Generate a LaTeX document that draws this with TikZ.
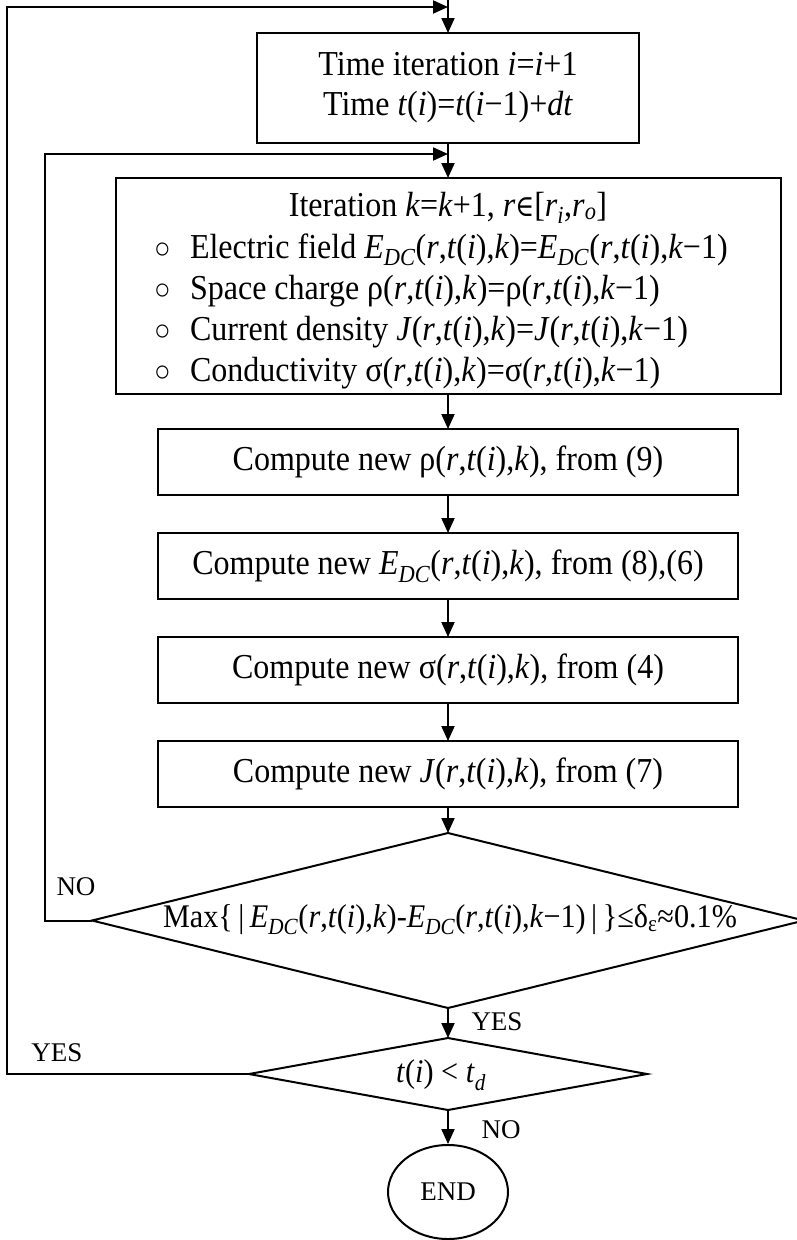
\documentclass[tikz,border=0pt]{standalone}
\usepackage{fontspec}
\setmainfont{Liberation Serif}[FakeStretch=0.915]
\newfontfamily\lblfont{Liberation Serif}
\newfontfamily\symf{DejaVu Serif}[FakeStretch=0.85]
\usetikzlibrary{arrows.meta,shapes.geometric}
\newcommand\vi[1]{\textit{#1}}
\newcommand\sbs[1]{\textsubscript{#1}}
\newcommand\EDC{\vi{E}\sbs{\vi{DC}}}
\newcommand\rtk{(\vi{r},\vi{t}(\vi{i}),\vi{k})}
\newcommand\rtkm{(\vi{r},\vi{t}(\vi{i}),\vi{k}−1)}
\newcommand\bul{\makebox[36pt][l]{\fontsize{30}{30}\selectfont ○}}
\begin{document}
\begin{tikzpicture}[x=1pt,y=-1pt,
  line width=2pt,
  arr/.style={-{Triangle[length=15pt,width=13pt]}},
  box/.style={draw, rectangle, inner sep=0pt, outer sep=0pt, font=\fontsize{35}{40}\selectfont, align=center},
  txt/.style={inner sep=0pt, font=\fontsize{35}{40}\selectfont},
  dtxt/.style={inner sep=0pt, font=\fontsize{33}{40}\selectfont},
  lbl/.style={inner sep=0pt, font=\lblfont\fontsize{27}{30}\selectfont},
  dia/.style={draw, diamond, inner sep=0pt, outer sep=0pt},
]
\useasboundingbox (0,0) rectangle (797,1240);

\node[box, minimum width=382pt, minimum height=110pt] (b1) at (448,88)
  {Time iteration \vi{i}=\vi{i}+1\\Time \vi{t}(\vi{i})=\vi{t}(\vi{i}−1)+\vi{dt}};

\node[box, minimum width=665pt, minimum height=216pt] (b2) at (448,286) {};
\node[txt, anchor=base] (l0) at (448,216)
  {Iteration \vi{k}=\vi{k}+1, \vi{r}{\symf\fontsize{30}{30}\selectfont ∈}[\vi{r}\sbs{\vi{i}},\vi{r}\sbs{\vi{o}}]};
\node[txt, anchor=base west] (l1) at (153,258) {\bul Electric field \EDC\rtk=\EDC\rtkm};
\node[txt, anchor=base west] (l2) at (153,299) {\bul Space charge ρ\rtk=ρ\rtkm};
\node[txt, anchor=base west] (l3) at (153,340) {\bul Current density \vi{J}\rtk=\vi{J}\rtkm};
\node[txt, anchor=base west] (l4) at (153,381) {\bul Conductivity σ\rtk=σ\rtkm};

\node[box, minimum width=580pt, minimum height=66pt] (b3) at (448,462) {Compute new ρ\rtk, from (9)};
\node[box, minimum width=580pt, minimum height=66pt] (b4) at (448,566) {Compute new \EDC\rtk, from (8),(6)};
\node[box, minimum width=580pt, minimum height=66pt] (b5) at (448,670) {Compute new σ\rtk, from (4)};
\node[box, minimum width=580pt, minimum height=66pt] (b6) at (448,774) {Compute new \vi{J}\rtk, from (7)};

\node[dia, minimum width=712pt, minimum height=175pt] (d1) at (448,920.5) {};
\node[dtxt] (t1) at (450,920) {Max\{\,|\,\EDC\rtk-\EDC\rtkm\,|\,\}≤δ\sbs{ε}≈0.1\%};

\node[dia, minimum width=398pt, minimum height=72pt] (d2) at (448,1074) {};
\node[dtxt] (t2) at (441,1075) {\vi{t}(\vi{i}) < \vi{t}\sbs{\vi{d}}};

\node[draw, ellipse, minimum width=120pt, minimum height=94pt, inner sep=0pt, lbl] (end) at (448,1192) {END};

\coordinate (top) at (448,0);
\coordinate (oc) at (7,7);
\coordinate (ot) at (448,7);
\coordinate (ic) at (45,154);
\coordinate (it) at (448,154);

\draw[arr] (top) -- (b1.north);
\draw[arr] (b1.south) -- (b2.north);
\draw[arr] (b2.south) -- (b3.north);
\draw[arr] (b3.south) -- (b4.north);
\draw[arr] (b4.south) -- (b5.north);
\draw[arr] (b5.south) -- (b6.north);
\draw[arr] (b6.south) -- (d1.north);
\draw[arr] (d1.south) -- (d2.north);
\draw[arr] (d2.south) -- (end.north);
\draw[arr] (d1.west) -| (ic) -- (it);
\draw[arr] (d2.west) -| (oc) -- (ot);

\node[lbl] (no1) at (76,887) {NO};
\node[lbl] (yes1) at (497,1022) {YES};
\node[lbl] (yes2) at (57,1053) {YES};
\node[lbl] (no2) at (501,1130) {NO};
\end{tikzpicture}
\end{document}
